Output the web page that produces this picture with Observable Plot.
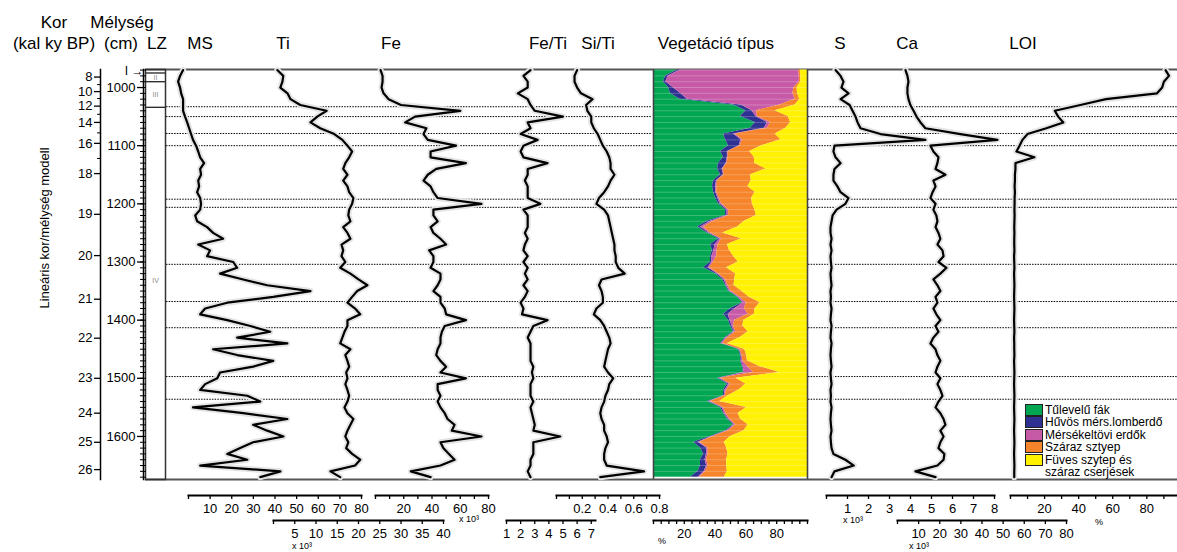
<!DOCTYPE html>
<html><head><meta charset="utf-8">
<script src="https://cdn.jsdelivr.net/npm/d3@7"></script>
<script src="https://cdn.jsdelivr.net/npm/@observablehq/plot@0.6"></script>
<style>
html,body{margin:0;padding:0;background:#fff;overflow:hidden;}
#chart{position:relative;width:1177px;height:552px;font-family:"Liberation Sans",Arial,Helvetica,sans-serif;color:#000;}
#chart svg{position:absolute;left:0;top:0;}
.hdr{position:absolute;font-size:17px;line-height:1;white-space:nowrap;transform:translateX(-50%);}
.small{position:absolute;font-size:9px;line-height:1;white-space:nowrap;}
.ylab{position:absolute;font-size:13px;line-height:1;white-space:nowrap;transform:translate(-50%,-50%) rotate(-90deg);}
.leg{position:absolute;left:1025px;top:404px;font-size:12px;line-height:12.4px;}
.leg .row{display:flex;align-items:flex-start;}
.leg .sw{width:16px;height:10px;border:1px solid #222;margin-right:2px;margin-top:0px;flex:none;}
.leg .tx{white-space:pre;}
</style></head>
<body><div id="chart"></div>
<script>
// ---------------- data ----------------
const depths = [970,980,990,1000,1010,1020,1030,1040,1050,1060,1070,1080,1090,1100,1110,1120,1130,1140,1150,1160,1170,1180,1190,1200,1210,1220,1230,1240,1250,1260,1270,1280,1290,1300,1310,1320,1330,1340,1350,1360,1370,1380,1390,1400,1410,1420,1430,1440,1450,1460,1470,1480,1490,1500,1510,1520,1530,1540,1550,1560,1570,1580,1590,1600,1610,1620,1630,1640,1650,1660,1670];

const ms = [-2.5,-3.9,-4.8,-3.9,-3.4,-2.5,-2.5,-2.5,-1.6,-0.6,
 0.3,1.2,2.1,3.5,4.5,5.4,7.2,5.4,5.8,4.5,
 4.9,4.0,5.4,5.8,5.4,3.1,4.0,8.6,11.4,16.0,
 4.5,10.0,8.6,20.7,22.5,14.6,25.3,36.4,56.4,39.2,
 17.9,7.7,5.4,17.9,28.6,37.8,22.5,45.7,11.4,22.5,
 39.2,29.9,14.6,13.3,7.7,5.4,27.2,33.2,2.1,25.3,
 45.7,29.9,36.4,43.9,29.9,23.9,17.9,27.2,5.4,42.5,
 33.2];

const ti = [0.9,2.3,2.1,1.6,3.3,4.0,6.3,12.5,10.3,8.7,
 11.0,14.3,16.2,17.4,18.5,17.8,16.9,16.4,17.4,16.4,
 17.4,17.8,18.8,18.5,17.8,17.6,18.1,16.4,17.4,18.1,
 16.0,16.4,16.0,16.9,15.7,18.1,20.0,22.1,19.7,18.5,
 17.4,19.2,20.4,17.4,17.4,16.7,16.2,15.7,18.1,16.9,
 17.4,17.8,17.1,17.4,16.9,17.4,17.8,17.4,16.7,17.4,
 18.8,18.1,17.4,16.9,17.6,17.1,18.5,20.4,19.2,13.4,
 15.7];

const fe = [3.6,5,5,4.3,5.7,9.3,18,60,28,21,
 36,34,37,57,39,39,64,43,37,34,
 39,41,44,75,41,41,44,39,41,46,
 50,38,41,41,39,46,46,44,41,46,
 46,49,50,64,49,47,46,46,44,43,
 46,50,46,64,44,44,46,44,46,49,
 51,56,54,75,46,48,52,56,46,25,
 39];

const feTi = [2.7,2.2,2.5,2.5,1.8,2.5,2.7,3.0,5.0,2.5,
 2.7,2.0,3.2,2.2,2.0,2.2,3.9,2.5,2.5,2.3,
 2.5,2.5,2.5,3.4,2.2,2.5,2.5,2.5,2.3,2.5,
 2.3,2.2,2.5,2.2,2.5,2.3,2.5,2.2,2.5,2.3,
 2.0,2.2,2.1,3.9,2.9,2.7,2.5,2.7,2.7,2.7,
 2.7,2.9,2.8,2.9,2.7,2.7,2.7,2.9,2.7,2.8,
 2.9,3.0,2.9,4.8,2.9,2.9,2.9,2.7,2.7,2.5,
 2.7];

const siTi = [0.16,0.14,0.14,0.16,0.19,0.28,0.23,0.24,0.27,0.27,
 0.29,0.32,0.34,0.36,0.39,0.41,0.42,0.42,0.45,0.42,
 0.40,0.37,0.33,0.31,0.37,0.40,0.41,0.42,0.43,0.44,
 0.45,0.45,0.46,0.46,0.48,0.53,0.35,0.33,0.35,0.36,
 0.36,0.31,0.29,0.34,0.37,0.39,0.41,0.42,0.40,0.39,
 0.38,0.37,0.40,0.44,0.41,0.40,0.38,0.37,0.35,0.34,
 0.35,0.37,0.37,0.39,0.40,0.38,0.37,0.37,0.39,0.68,
 0.34];

const sulfur = [0.43,0.67,0.81,0.71,1.05,0.67,1.1,1.24,1.38,1.48,
 1.62,2.57,4.71,0.38,0.33,0.43,0.67,0.38,0.33,0.33,
 0.52,0.67,1.05,0.9,0.48,0.29,0.24,0.19,0.19,0.24,
 0.19,0.24,0.19,0.21,0.24,0.19,0.21,0.24,0.19,0.21,
 0.19,0.24,0.21,0.19,0.24,0.21,0.19,0.24,0.21,0.19,
 0.21,0.24,0.19,0.21,0.24,0.19,0.21,0.19,0.24,0.21,
 0.19,0.21,0.24,0.19,0.21,0.24,0.33,0.9,1.3,0.38,
 0.24];

const ca = [3.8,4.7,5.2,4.7,4.7,5.2,6.1,7.6,9.0,10.9,
 13.2,29.8,47.3,15.6,17.0,19.4,18.9,18.0,22.7,17.0,
 18.0,16.6,15.6,18.0,17.0,18.4,18.9,18.0,19.4,20.3,
 18.9,21.3,21.8,19.4,23.2,20.3,17.0,18.9,20.3,18.0,
 18.9,17.0,18.4,20.3,18.0,19.4,17.0,15.6,18.0,18.9,
 20.3,18.9,18.0,20.3,18.9,20.3,21.3,19.4,18.0,20.3,
 21.8,22.7,20.3,21.8,20.3,19.4,22.2,21.8,18.9,8.5,
 18.0];

const loi = [91,93,90,89,86,56,41,26,28,31,
 21,10,7,5.3,3.5,14,2.9,2.9,2.6,2.6,
 2.4,2.6,2.4,2.4,2.3,2.4,2.3,2.2,2.3,2.2,
 2.2,2.3,2.1,2.2,2.3,2.1,2.2,2.3,2.2,2.1,
 2.2,2.3,2.2,2.1,2.2,2.3,2.1,2.2,2.2,2.3,
 2.1,2.2,2.3,2.2,2.1,2.2,2.3,2.2,2.1,2.2,
 2.3,2.2,2.1,2.2,2.3,2.2,2.1,2.2,2.3,2.2,
 2.2];

// vegetation (% per sample, cumulative to 100)
const vegTypes = ["Tűlevelű fák","Hűvös mérs.lomberdő","Mérsékeltövi erdők","Száraz sztyep","Füves szytep és\nszáraz cserjések"];
const vegColors = ["#00a651","#2e3192","#c65aa6","#f5842a","#fff100"];
const conifer = [15.6,7.8,6.5,9.7,11,17,52,60,56.5,66,
 63,45.5,46.8,48.7,43.5,45.5,42.2,41.6,43.5,39,
 38.3,39,40.3,42.2,46.8,46.8,35,28.6,35,42.2,
 37,38.3,37,37,32.5,40.3,44.8,46.8,48.7,54.5,
 57.8,50,45.5,48.7,50,52,46.8,43.5,55.2,56.5,
 56.5,57.8,58.4,41.6,48,45.5,45.5,35,43.5,45.5,
 48,52,46.8,37,26,30.5,32.5,30.5,30.5,29,
 24];
const coolDecid = [1.9,1.9,1.5,3,6.5,5,5,4,10,8,
 9,6.5,10,7,4.5,2.5,5,3,2,2,
 2,1.5,1.5,1,1,1,2,2,1,1,
 3,1,1,1,3,1,1,0.5,0.5,0.5,
 0.5,3,3,1,1,0.5,0.5,0.5,0.5,0.5,
 0.5,0.5,0.5,1,1,1,0.5,1,1,0.5,
 0.5,0.5,1,1,3,4,2,3,4,4,
 5];
const temperate = [76.6,85,86.7,78.6,73,70,25,3,1,2,
 2,1,1,0.5,0.5,0.5,0.5,0.5,0.5,0.5,
 1,0.5,1,1,1,1,2,2,1,1,
 2,2,3,1,1,1,1,1,1,1,
 2,6,13,3,1,1,1,1,0.5,0.5,
 1,3,6,1,1,1,0.5,1,1,1,
 1,1,1,1,1,1,1,1,1,1,
 1];
const drySteppe = [1.3,1,1,2,3,3,10,12,20,13,
 12,26,25,14,14,17,18,28,17,22,
 20,25,21,20,17,18,20,22,8,13,
 6,8,11,16,11,11,6,4,7,6,
 9,7,4,6,6,8,8,3,3,3,
 3,8,17,10,10,8,2,6,15,8,
 7,8,10,11,16,12,13,13,12,14,
 16];
const grassSteppe = [4.6,4.3,4.3,6.7,6.5,5,8,21,12.5,11,
 14,21,17.2,29.8,37.5,34.5,34.3,26.9,37,36.5,
 38.7,34,36.2,35.8,34.2,33.2,41,45.4,55,42.8,
 52,50.7,48,45,52.5,46.7,47.2,47.7,42.8,38,
 30.7,34,34.5,41.3,42,38.5,43.7,52,40.8,39.5,
 39,30.7,18.1,46.4,40,44.5,51.5,57,39.5,45,
 43.5,38.5,41.2,50,54,52.5,51.5,52.5,52.5,52,
 54];

// lithological zones and event lines
const zoneNames = ["", "II", "III", "IV"];
const zoneTops = [969, 975, 990, 1034];
const zoneBottoms = [975, 990, 1034, 1674];
const eventDepths = [1033, 1050, 1079, 1100, 1192, 1206, 1304, 1368, 1413, 1497, 1536];

// axis ticks
const ageTicks = [8,10,12,14,16,18,19,20,21,22,23,24,25,26];
const ageTickDepths = [982,1007,1032,1060,1096,1148,1218,1289,1364,1431,1500,1560,1610,1657];
const ageMinorDepths = [995,1019,1046,1078,1122];
const depthTicks = [1000,1100,1200,1300,1400,1500,1600];

// ---------------- layout ----------------
const W = 1177, H = 552, TOP = 69, BOT = 479;
const dMin = 969, dMax = 1674;
const FONT = '"Liberation Sans", Arial, Helvetica, sans-serif';
const ROW1 = 495, ROW2 = 520;
const chart = document.getElementById("chart");

const styleFor = (fs) => ({background: "transparent", overflow: "visible", fontFamily: FONT, fontSize: fs, color: "#000"});
const yScale = {domain: [dMin, dMax], range: [TOP, BOT], axis: null};

function add(svg) { chart.appendChild(svg); }

function rec(vals) { return depths.map((d, i) => ({depth: d, v: vals[i]})); }

function curve(vals) {
  const r = rec(vals);
  return [
    Plot.lineX(r, {x: "v", y: "depth", stroke: "#e4e4e4", strokeWidth: 6, strokeLinejoin: "round"}),
    Plot.lineX(r, {x: "v", y: "depth", stroke: "#000", strokeWidth: 2.2, strokeLinejoin: "round"})
  ];
}

function panel(cfg) {
  add(Plot.plot({
    width: W, height: H,
    marginTop: TOP, marginBottom: H - cfg.row,
    marginLeft: cfg.left, marginRight: W - cfg.right,
    x: {domain: cfg.domain, range: [cfg.left, cfg.right], axis: null},
    y: yScale,
    color: {domain: vegTypes, range: vegColors},
    style: styleFor("13px"),
    marks: [
      ...cfg.marks,
      Plot.frame({anchor: "bottom", stroke: "#000", strokeWidth: 2}),
      Plot.axisX({ticks: cfg.ticks, tickSize: 4, strokeWidth: 1.3, tickFormat: () => "", label: null}),
      Plot.axisX({ticks: cfg.labels, tickSize: 0, tickPadding: 8, tickFormat: cfg.fmt || (d => String(d)), label: null})
    ]
  }));
}

// main frame top/bottom lines
add(Plot.plot({
  width: W, height: H, marginTop: TOP, marginBottom: H - BOT, marginLeft: 145, marginRight: 0,
  y: yScale, style: styleFor("13px"),
  marks: [Plot.ruleY([dMin, dMax], {stroke: "#555", strokeWidth: 2})]
}));

// dotted event lines (left block and right block, not across vegetation panel)
for (const [l, r] of [[166, 652], [808, W]]) {
  add(Plot.plot({
    width: W, height: H, marginTop: TOP, marginBottom: H - BOT, marginLeft: l, marginRight: W - r,
    y: yScale, style: styleFor("13px"),
    marks: [Plot.ruleY(eventDepths, {stroke: "#000", strokeWidth: 1, strokeDasharray: "1.5,1.2"})]
  }));
}

// LZ column
add(Plot.plot({
  width: W, height: H, marginTop: TOP, marginBottom: H - BOT, marginLeft: 145, marginRight: W - 165,
  y: yScale, style: styleFor("7px"),
  marks: [
    Plot.ruleY(zoneTops.slice(1), {stroke: "#222", strokeWidth: 1.3}),
    Plot.frame({stroke: "#333", strokeWidth: 1.5}),
    Plot.text(zoneNames.map((n, i) => ({n, d: (zoneTops[i] + zoneBottoms[i]) / 2})).filter(z => z.n),
      {y: z => z.n === "IV" ? 1332 : z.d, text: "n", fill: "#888", fontSize: 7}),
    Plot.text([{t: "I \u2192", d: 971}], {y: "d", text: "t", frameAnchor: "left", textAnchor: "end", dx: -2, fontSize: 12})
  ]
}));

// age axis
const ageByDepth = new Map(ageTickDepths.map((d, i) => [d, ageTicks[i]]));
add(Plot.plot({
  width: W, height: H, marginTop: TOP, marginBottom: H - BOT, marginLeft: 100, marginRight: W - 102,
  y: yScale, style: styleFor("13px"),
  marks: [
    Plot.frame({anchor: "left", stroke: "#000", strokeWidth: 1.5}),
    Plot.axisY({ticks: ageTickDepths, tickSize: 6, tickPadding: 2, tickFormat: d => String(ageByDepth.get(d)), label: null, strokeWidth: 1.3}),
    Plot.axisY({ticks: ageMinorDepths, tickSize: 3, tickFormat: () => "", label: null})
  ]
}));

// depth axis
add(Plot.plot({
  width: W, height: H, marginTop: TOP, marginBottom: H - BOT, marginLeft: 143, marginRight: W - 146,
  y: yScale, style: styleFor("13px"),
  marks: [
    Plot.frame({anchor: "left", stroke: "#000", strokeWidth: 1.5}),
    Plot.axisY({ticks: d3.range(970, 1671, 10), tickSize: 3, tickFormat: () => "", label: null}),
    Plot.tickY(d3.range(970, 1671, 10), {y: d => d, stroke: "#000", strokeWidth: 1}),
    Plot.axisY({ticks: depthTicks, tickSize: 6, tickPadding: 2, tickFormat: d => String(d), label: null, strokeWidth: 1.3})
  ]
}));

// data panels
panel({domain: [0, 80], left: 188, right: 361, row: ROW1, ticks: d3.range(0, 81, 10), labels: d3.range(10, 81, 10), marks: curve(ms)});
panel({domain: [0, 40], left: 273, right: 443, row: ROW2, ticks: d3.range(0, 41, 5), labels: d3.range(5, 41, 5), marks: curve(ti)});
panel({domain: [0, 80], left: 375, right: 488, row: ROW1, ticks: d3.range(0, 81, 10), labels: [20, 40, 60, 80], marks: curve(fe)});
panel({domain: [1, 7.3], left: 506, right: 595, row: ROW2, ticks: d3.range(1, 8, 1), labels: d3.range(1, 8, 1), marks: curve(feTi)});
panel({domain: [0, 0.8], left: 556, right: 659, row: ROW1, ticks: d3.range(0, 0.81, 0.1), labels: [0.2, 0.4, 0.6, 0.8], fmt: d => d.toFixed(1), marks: curve(siTi)});

// vegetation stacked areas
const vegSeries = [conifer, coolDecid, temperate, drySteppe, grassSteppe];
const vegLong = [];
depths.forEach((d, i) => vegSeries.forEach((s, k) => vegLong.push({depth: d, type: vegTypes[k], value: s[i]})));
panel({domain: [0, 100], left: 653, right: 807, row: ROW2, ticks: d3.range(0, 101, 5), labels: [20, 40, 60, 80],
  marks: [
    Plot.areaX(vegLong, {x: "value", y: "depth", z: "type", fill: "type", order: vegTypes, curve: "linear"}),
    Plot.ruleY(depths, {stroke: "#fff", strokeOpacity: 0.3, strokeWidth: 0.8}),
    Plot.ruleX([0, 100], {y1: dMin, y2: dMax, stroke: "#444", strokeWidth: 1.6})
  ]});

panel({domain: [0, 8], left: 826, right: 994, row: ROW1, ticks: d3.range(0, 9, 1), labels: d3.range(1, 9, 1), marks: curve(sulfur)});
panel({domain: [0, 80], left: 897, right: 1066, row: ROW2, ticks: d3.range(0, 81, 10), labels: d3.range(10, 81, 10), marks: curve(ca)});
panel({domain: [0, 98], left: 1010, right: 1177, row: ROW1, ticks: d3.range(0, 91, 10), labels: [20, 40, 60, 80], marks: curve(loi)});

// ---------------- texts ----------------
const headers = [
  {t: "Kor", x: 54, y: 14}, {t: "Mélység", x: 122, y: 14},
  {t: "(kal ky BP)", x: 54, y: 35}, {t: "(cm)", x: 121, y: 35},
  {t: "LZ", x: 157, y: 35}, {t: "MS", x: 200, y: 35}, {t: "Ti", x: 283, y: 35},
  {t: "Fe", x: 391, y: 35}, {t: "Fe/Ti", x: 548, y: 35}, {t: "Si/Ti", x: 598, y: 35},
  {t: "Vegetáció típus", x: 716, y: 35}, {t: "S", x: 840, y: 35}, {t: "Ca", x: 907, y: 35}, {t: "LOI", x: 1023, y: 35}
];
for (const h of headers) {
  const el = document.createElement("div");
  el.className = "hdr"; el.textContent = h.t;
  el.style.left = h.x + "px"; el.style.top = h.y + "px";
  chart.appendChild(el);
}
const unitNotes = [
  {t: "x 10³", x: 459, y: 515}, {t: "x 10³", x: 292, y: 542}, {t: "x 10³", x: 843, y: 516},
  {t: "x 10³", x: 909, y: 542}, {t: "%", x: 658, y: 537}, {t: "%", x: 1095, y: 518}
];
for (const u of unitNotes) {
  const el = document.createElement("div");
  el.className = "small"; el.textContent = u.t;
  el.style.left = u.x + "px"; el.style.top = u.y + "px";
  chart.appendChild(el);
}
const yl = document.createElement("div");
yl.className = "ylab"; yl.textContent = "Lineáris kor/mélység modell";
yl.style.left = "44px"; yl.style.top = "228px";
chart.appendChild(yl);

const leg = document.createElement("div");
leg.className = "leg";
vegTypes.forEach((t, i) => {
  const row = document.createElement("div"); row.className = "row";
  const sw = document.createElement("div"); sw.className = "sw"; sw.style.background = vegColors[i];
  const tx = document.createElement("div"); tx.className = "tx"; tx.textContent = t;
  row.appendChild(sw); row.appendChild(tx); leg.appendChild(row);
});
chart.appendChild(leg);
</script>
</body></html>
